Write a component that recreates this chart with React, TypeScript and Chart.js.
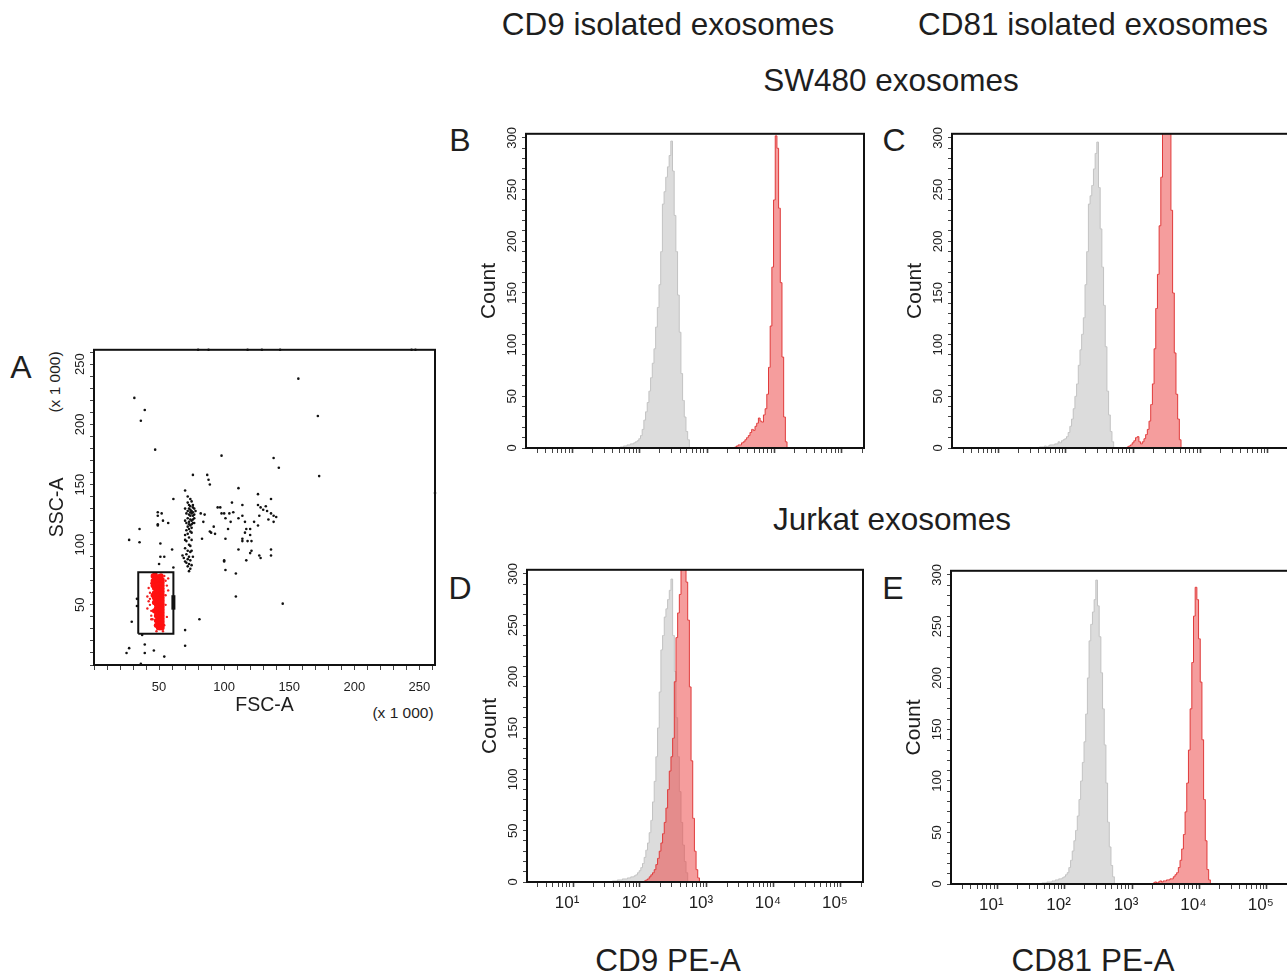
import React, { useEffect, useRef } from 'react';
import { Chart, registerables } from 'chart.js';

Chart.register(...registerables);

const FONT = '"Liberation Sans", Arial, Helvetica, sans-serif';
const TEXT = '#1e1e1e';

// ---------------- Panel A: FSC-A / SSC-A events (x 1 000) ----------------
const blackEvents: [number, number][] = [
  [31, 222], [39, 212], [36, 203], [47, 179], [98, 174], [157, 238], [172, 207], [138, 172], [142, 164], [173, 157],
  [76, 158], [87, 158], [88, 154], [89, 150], [70, 145], [111, 147], [61, 138], [35, 113], [27, 104], [35, 102],
  [49, 127], [49, 124], [52, 126], [49, 117], [49, 116], [53, 120], [57, 118], [51, 101], [60, 96], [51, 90],
  [54, 90], [50, 84], [61, 81], [25, 10], [27, 14], [29, 36], [33, 55], [33, 49], [36, 1], [37, 25],
  [39, 17], [39, 10], [46, 12], [54, 7], [70, 29], [70, 16], [81, 38], [145, 51], [109, 57], [109, 76],
  [101, 79], [100, 86], [100, 87], [101, 105], [90, 110], [92, 115], [95, 131], [97, 131], [98, 126], [100, 126],
  [101, 122], [104, 126], [107, 127], [106, 135], [103, 113], [105, 119], [111, 96], [114, 133], [114, 124], [111, 122],
  [116, 119], [116, 110], [117, 113], [114, 105], [114, 103], [118, 103], [121, 103], [120, 108], [120, 113], [123, 119],
  [120, 93], [121, 95], [117, 87], [127, 91], [128, 89], [126, 142], [126, 133], [128, 131], [130, 129], [127, 124],
  [126, 116], [136, 138], [132, 132], [133, 128], [136, 126], [138, 124], [140, 123], [134, 121], [138, 119], [136, 96],
  [136, 91], [85, 125], [82, 126], [89, 111], [83, 105], [93, 109], [84, 119],
  [72, 135], [74, 132], [73, 130], [75, 128], [76, 131], [71, 126], [73, 125], [74, 124], [76, 124], [72, 122],
  [74, 121], [75, 120], [73, 119], [71, 118], [76, 118], [74, 116], [72, 115], [75, 114], [73, 113], [71, 112],
  [74, 111], [72, 109], [70, 108], [73, 106], [75, 104], [71, 103], [73, 100], [70, 97], [72, 95], [74, 94],
  [71, 92], [73, 90], [69, 89], [72, 88], [74, 87], [71, 85], [73, 84], [72, 82], [74, 80], [73, 78],
  [75, 83], [76, 127], [77, 125], [78, 128], [70, 130], [74, 138], [72, 140], [75, 136], [76, 133], [70, 120],
  [77, 118], [68, 91], [76, 90], [70, 86], [75, 95], [74, 99], [70, 104], [77, 122], [73, 117], [75, 110],
  [75, 126], [74, 129], [76, 121], [75, 117], [74, 127], [73, 133], [77, 130], [72, 128],
  [80, 262], [88, 262], [118, 262], [129, 262], [143, 262], [244, 262], [247, 262], [262, 143],
];

// dense gated population (drawn with larger dots)
const redCore: [number, number][] = [
  [49.5, 31], [51, 31], [52.3, 31], [49.5, 33.5], [51, 33.5], [52.3, 33.5], [49.5, 36], [51, 36], [52.3, 36],
  [49.5, 38.5], [51, 38.5], [52.3, 38.5], [49.5, 41], [51, 41], [52.3, 41], [49.5, 43.5], [51, 43.5], [52.3, 43.5],
  [49.5, 46], [51, 46], [52.3, 46], [49.5, 48.5], [51, 48.5], [52.3, 48.5], [49.5, 51], [51, 51], [52.3, 51],
  [49.5, 53.5], [51, 53.5], [52.3, 53.5], [49.5, 56], [51, 56], [52.3, 56], [49.5, 58.5], [51, 58.5], [52.3, 58.5],
  [49.5, 61], [51, 61], [52.3, 61], [49.5, 63.5], [51, 63.5], [52.3, 63.5], [49.5, 66], [51, 66], [52.3, 66],
  [49.5, 68.5], [51, 68.5], [52.3, 68.5], [49.5, 71], [51, 71], [52.3, 71], [50, 73.5], [51.5, 74],
  [48, 33], [48, 37], [48, 41], [48, 44], [48, 47], [48, 50], [48, 53], [48, 56], [48, 59], [48, 62],
  [48, 65], [48, 68], [48, 71], [46.5, 45], [46.5, 52], [46.5, 56], [46.5, 60], [46.5, 64], [46.5, 68], [46.5, 72],
  [45.5, 58], [45.5, 66], [45.5, 70], [45.5, 74], [47, 75],
];

// sparse gated events (small dots)
const redSparse: [number, number][] = [
  [41, 57], [42, 53], [43, 50], [41, 47], [44, 45], [43, 60], [42, 64], [44, 41], [45, 38], [43, 55],
  [55, 70], [56, 66], [57, 62], [55, 50], [56, 40], [54, 33], [53, 28], [48, 28], [47, 33], [44, 38],
  [54, 74], [55, 58], [44, 68], [46, 76], [57, 72],
];

const gateCorners: [number, number][] = [[34, 26], [61, 26], [61, 77], [34, 77], [34, 26]];
const gateHandle: [number, number][] = [[61, 46], [61, 58]];

// ---------------- Histograms (log10 channel, count) ----------------
const BIN_STEP = 0.025;

const bGrayStart = 1.7;
const bGrayCounts = [0, 1, 1, 2, 2, 3, 3, 4, 4, 5, 6, 7, 9, 12, 18, 27, 35, 44, 55, 68, 82, 96, 117, 136, 158, 190, 236, 248, 262, 272, 283, 297, 268, 225, 190, 148, 112, 72, 46, 30, 16, 8, 0];
const bRedStart = 3.4;
const bRedCounts = [0, 1, 2, 3, 3, 5, 6, 8, 10, 12, 15, 18, 17, 21, 24, 29, 26, 25, 32, 38, 52, 78, 118, 175, 240, 302, 290, 232, 160, 88, 30, 6, 0];

const cGrayStart = 1.6;
const cGrayCounts = [0, 1, 1, 1, 2, 1, 2, 3, 3, 3, 4, 4, 6, 5, 7, 8, 9, 11, 15, 21, 28, 38, 50, 62, 80, 95, 110, 126, 158, 190, 236, 244, 254, 270, 285, 296, 252, 212, 175, 138, 98, 55, 32, 16, 6, 0];
const cRedStart = 2.9;
const cRedCounts = [0, 1, 2, 3, 5, 7, 10, 11, 6, 4, 6, 9, 13, 18, 26, 42, 62, 96, 135, 168, 215, 262, 320, 360, 385, 370, 345, 230, 150, 92, 52, 28, 8, 0];

const dGrayStart = 1.575;
const dGrayCounts = [0, 1, 1, 1, 2, 2, 2, 3, 3, 3, 4, 4, 5, 5, 6, 7, 9, 11, 14, 18, 24, 31, 38, 48, 60, 78, 98, 122, 150, 185, 226, 240, 258, 266, 275, 284, 295, 240, 205, 160, 122, 88, 58, 36, 20, 9, 0];
const dRedStart = 2.05;
const dRedCounts = [0, 1, 2, 3, 5, 7, 9, 12, 17, 23, 30, 38, 47, 58, 72, 90, 108, 122, 140, 195, 238, 262, 280, 310, 330, 318, 292, 255, 190, 118, 62, 30, 12, 4, 0];

const eGrayStart = 1.65;
const eGrayCounts = [0, 1, 1, 1, 2, 2, 2, 3, 3, 4, 4, 5, 5, 6, 7, 9, 11, 16, 23, 32, 42, 52, 66, 82, 100, 118, 138, 165, 200, 236, 252, 264, 276, 295, 270, 240, 205, 170, 135, 98, 60, 36, 18, 7, 0];
const eRedStart = 3.3;
const eRedCounts = [0, 1, 2, 1, 2, 3, 2, 3, 3, 4, 4, 5, 5, 7, 9, 11, 16, 23, 34, 48, 70, 98, 130, 170, 215, 260, 288, 276, 238, 196, 140, 82, 42, 14, 4, 0];

const countTicks = [0, 50, 100, 150, 200, 250, 300];
const decadeLabels = ['10⁰', '10¹', '10²', '10³', '10⁴', '10⁵'];
const scatterTicks = [50, 100, 150, 200, 250];

// ---------------- helpers ----------------
const bins = (start: number, counts: number[]) => counts.map((c, i) => ({ x: start + i * BIN_STEP, y: c }));
const pts = (list: [number, number][]) => list.map(([x, y]) => ({ x, y }));

const framePlugin = {
  id: 'frame',
  afterDatasetsDraw(chart: any) {
    const { ctx, chartArea } = chart;
    ctx.save();
    ctx.strokeStyle = '#111';
    ctx.lineWidth = 2;
    ctx.strokeRect(chartArea.left, chartArea.top, chartArea.right - chartArea.left, chartArea.bottom - chartArea.top);
    ctx.restore();
  },
};

function logTicks(scale: any) {
  const vals: { value: number }[] = [];
  for (let d = 0; d <= 5; d++) {
    for (let k = 1; k <= 9; k++) {
      const v = d + Math.log10(k);
      if (v >= scale.min - 1e-9 && v <= scale.max + 1e-9) vals.push({ value: v });
    }
  }
  scale.ticks = vals;
}

function histConfig(gray: { x: number; y: number }[], red: { x: number; y: number }[], labels: boolean, xH: number): any {
  return {
    type: 'line',
    data: {
      datasets: [
        {
          data: red, stepped: 'middle', fill: 'origin', order: 1,
          backgroundColor: 'rgba(236, 68, 68, 0.52)', borderColor: '#e03a3a', borderWidth: 1, pointRadius: 0,
        },
        {
          data: gray, stepped: 'middle', fill: 'origin', order: 2,
          backgroundColor: '#dcdcdc', borderColor: '#c3c3c3', borderWidth: 1, pointRadius: 0,
        },
      ],
    },
    options: {
      animation: false,
      responsive: false,
      events: [],
      layout: { padding: { left: 0, top: 6, right: 6, bottom: 0 } },
      plugins: { legend: { display: false }, tooltip: { enabled: false } },
      scales: {
        x: {
          type: 'linear', min: 0.313, max: 5.33,
          afterBuildTicks: logTicks,
          afterFit: (s: any) => { s.height = xH; },
          border: { display: false },
          grid: {
            drawOnChartArea: false, drawTicks: true, tickLength: 5, tickColor: '#444',
            tickWidth: (c: any) => (Math.abs(c.tick.value - Math.round(c.tick.value)) < 1e-6 ? 1.6 : 1),
          },
          ticks: {
            autoSkip: false, maxRotation: 0, minRotation: 0, padding: 6, labelOffset: -6,
            color: TEXT, font: { family: FONT, size: 17 },
            callback: (v: number) => {
              const r = Math.round(v);
              return labels && Math.abs(v - r) < 1e-6 ? decadeLabels[r] : '';
            },
          },
        },
        y: {
          type: 'linear', min: 0, max: 304,
          afterFit: (s: any) => { s.width = 56; },
          border: { display: false },
          grid: { drawOnChartArea: false, drawTicks: true, tickLength: 4, tickColor: '#444' },
          ticks: {
            stepSize: 10, includeBounds: false, autoSkip: false, minRotation: 90, maxRotation: 90,
            crossAlign: 'center', padding: -1, color: TEXT, font: { family: FONT, size: 13 },
            callback: (v: number) => (countTicks.includes(v) ? String(v) : ''),
          },
          title: { display: true, text: 'Count', color: TEXT, font: { family: FONT, size: 21 }, padding: { top: 7, bottom: 0 } },
        },
      },
    },
    plugins: [framePlugin],
  };
}

function scatterConfig(): any {
  return {
    type: 'scatter',
    data: {
      datasets: [
        { data: pts(gateCorners), showLine: true, borderColor: '#111', borderWidth: 2, pointRadius: 0, order: 0, clip: false },
        { data: pts(gateHandle), showLine: true, borderColor: '#111', borderWidth: 4, pointRadius: 0, order: 0, clip: false },
        { data: pts(redCore), backgroundColor: '#ff1010', borderWidth: 0, pointRadius: 2.6, order: 1, clip: false },
        { data: pts(redSparse), backgroundColor: '#f02020', borderWidth: 0, pointRadius: 1.2, order: 1, clip: false },
        { data: pts(blackEvents), backgroundColor: '#111', borderWidth: 0, pointRadius: 1.3, order: 2, clip: false },
      ],
    },
    options: {
      animation: false,
      responsive: false,
      events: [],
      layout: { padding: { left: 0, top: 6, right: 8, bottom: 0 } },
      plugins: { legend: { display: false }, tooltip: { enabled: false } },
      scales: {
        x: {
          type: 'linear', min: 0, max: 262,
          afterFit: (s: any) => { s.height = 54; },
          border: { display: false },
          grid: { drawOnChartArea: false, drawTicks: true, tickLength: 5, tickColor: '#444' },
          ticks: {
            stepSize: 10, includeBounds: false, autoSkip: false, maxRotation: 0, minRotation: 0, padding: 10,
            color: TEXT, font: { family: FONT, size: 13 },
            callback: (v: number) => (scatterTicks.includes(v) ? String(v) : ''),
          },
          title: { display: true, text: 'FSC-A', color: TEXT, font: { family: FONT, size: 19.5 }, padding: { top: 0, bottom: 2 } },
        },
        y: {
          type: 'linear', min: 0, max: 262,
          afterFit: (s: any) => { s.width = 54; },
          border: { display: false },
          grid: { drawOnChartArea: false, drawTicks: true, tickLength: 4, tickColor: '#444' },
          ticks: {
            stepSize: 10, includeBounds: false, autoSkip: false, minRotation: 90, maxRotation: 90,
            crossAlign: 'center', padding: -1, color: TEXT, font: { family: FONT, size: 13 },
            callback: (v: number) => (scatterTicks.includes(v) ? String(v) : ''),
          },
          title: { display: true, text: 'SSC-A', color: TEXT, font: { family: FONT, size: 19.5 }, padding: { top: 6, bottom: 0 } },
        },
      },
    },
    plugins: [framePlugin],
  };
}

function ChartBox({ left, top, width, height, make }: { left: number; top: number; width: number; height: number; make: () => any }) {
  const ref = useRef<HTMLCanvasElement>(null);
  useEffect(() => {
    const chart = new Chart(ref.current as HTMLCanvasElement, make());
    return () => chart.destroy();
  }, []);
  return (
    <canvas
      ref={ref}
      width={width}
      height={height}
      style={{ position: 'absolute', left, top, width, height }}
    />
  );
}

function Label({ x, y, size, text, rotate }: { x: number; y: number; size: number; text: string; rotate?: boolean }) {
  return (
    <div
      style={{
        position: 'absolute', left: x, top: y, fontSize: size, lineHeight: 1, whiteSpace: 'nowrap', color: TEXT,
        fontFamily: FONT,
        transform: `translate(-50%, -50%)${rotate ? ' rotate(-90deg)' : ''}`,
      }}
    >
      {text}
    </div>
  );
}

export default function App() {
  return (
    <div style={{ position: 'absolute', left: 0, top: 0, width: 1287, height: 976, overflow: 'hidden', background: '#fff' }}>
      <Label x={668} y={25} size={31.5} text="CD9 isolated exosomes" />
      <Label x={1093} y={25} size={31.5} text="CD81 isolated exosomes" />
      <Label x={891} y={81} size={31.5} text="SW480 exosomes" />
      <Label x={892} y={520} size={31.5} text="Jurkat exosomes" />
      <Label x={668} y={961} size={31.5} text="CD9 PE-A" />
      <Label x={1093} y={961} size={31.5} text="CD81 PE-A" />

      <Label x={21} y={367} size={32} text="A" />
      <Label x={460} y={140} size={32} text="B" />
      <Label x={894} y={140} size={32} text="C" />
      <Label x={460} y={588} size={32} text="D" />
      <Label x={893} y={588} size={32} text="E" />

      <Label x={55} y={382} size={15.5} text="(x 1 000)" rotate />
      <Label x={403} y={713} size={15.5} text="(x 1 000)" />

      <ChartBox left={40} top={343} width={403} height={376} make={scatterConfig} />
      <ChartBox left={470} top={127} width={400} height={329} make={() => histConfig(bins(bGrayStart, bGrayCounts), bins(bRedStart, bRedCounts), false, 8)} />
      <ChartBox left={896} top={127} width={400} height={329} make={() => histConfig(bins(cGrayStart, cGrayCounts), bins(cRedStart, cRedCounts), false, 8)} />
      <ChartBox left={471} top={563} width={398} height={351} make={() => histConfig(bins(dGrayStart, dGrayCounts), bins(dRedStart, dRedCounts), true, 32)} />
      <ChartBox left={895} top={564} width={400} height={352} make={() => histConfig(bins(eGrayStart, eGrayCounts), bins(eRedStart, eRedCounts), true, 32)} />
    </div>
  );
}
